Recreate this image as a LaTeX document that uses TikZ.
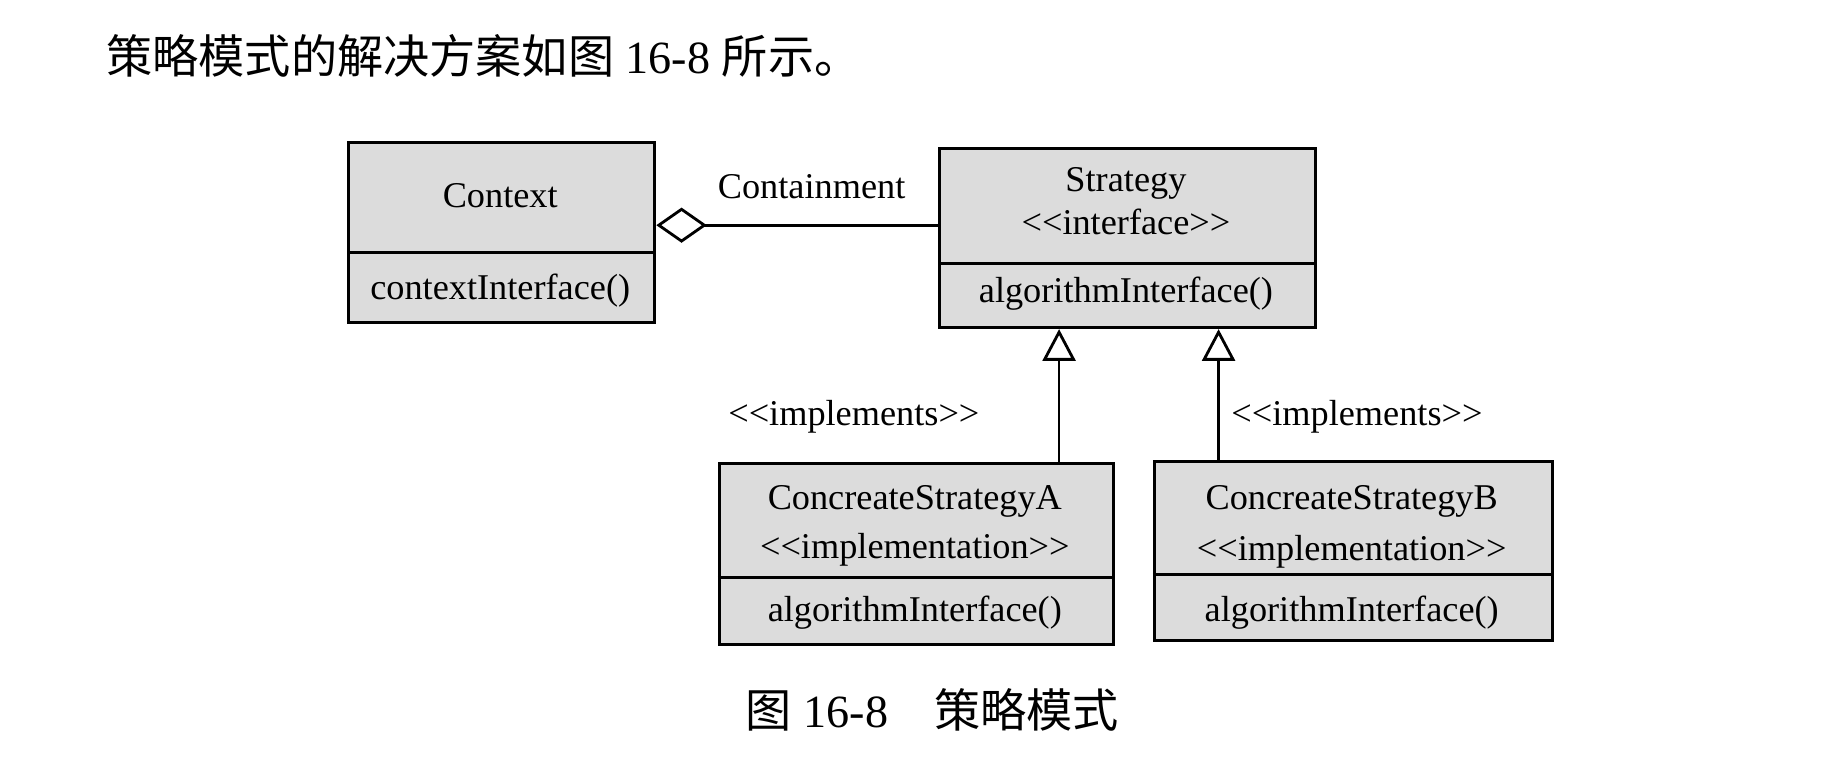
\documentclass[tikz,border=0pt]{standalone}
\usepackage{fontspec}
\newfontfamily\umlfont{Liberation Serif}
\newfontfamily\cjk{Noto Sans CJK SC}
\usetikzlibrary{arrows.meta}

\tikzset{
  classbox/.style={draw, line width=0.026cm, fill=r220g220b220, inner sep=0pt, anchor=north west},
  classtext/.style={inner sep=0pt, text height=0.66em, text depth=0pt},
  divider/.style={line width=0.026cm},
  aggregation/.style={line width=0.024cm, -{Diamond[open, length=0.43cm, width=0.30cm]}},
  realizes/.style={line width=0.024cm, -{Triangle[open, length=0.27cm, width=0.28cm]}},
}

\begin{document}
\begin{tikzpicture}
% \clip (0,0) rectangle (15.680000,6.600000);
\useasboundingbox (0.000000,0.000000) rectangle (15.680000,6.600000);
{\umlfont\fontsize{8.8pt}{10.5pt}\selectfont

% Changing color 220 220 220
\definecolor{r220g220b220}{rgb}{0.862745,0.862745,0.862745}%

% Heading line above the figure
\node [anchor=west, inner sep=0pt, font=\fontsize{11.2pt}{13pt}\selectfont] (heading) at (0.900000,6.120000)
  {{\cjk 策略模式的解决方案如图} 16-8 {\cjk 所示。}};%

% Drawing class Context
\node [classbox, minimum width=2.61cm, minimum height=1.54cm] (ctx) at (2.960000,5.400000) {};%
\draw [divider] (ctx.west |- 0,4.450000) -- (ctx.east |- 0,4.450000);%
\node [classtext] (ctxname) at (4.265000,4.930000) {Context};%
\node [classtext] (ctxop) at (4.265000,4.150000) {contextInterface()};%

% Drawing class Strategy
\node [classbox, minimum width=3.20cm, minimum height=1.53cm] (str) at (8.000000,5.350000) {};%
\draw [divider] (str.west |- 0,4.350000) -- (str.east |- 0,4.350000);%
\node [classtext] (strname) at (9.600000,5.070000) {Strategy};%
\node [classtext] (strstereo) at (9.600000,4.700000) {<<interface>>};%
\node [classtext] (strop) at (9.600000,4.120000) {algorithmInterface()};%

% Drawing class ConcreateStrategyA
\node [classbox, minimum width=3.36cm, minimum height=1.54cm] (csa) at (6.120000,2.660000) {};%
\draw [divider] (csa.west |- 0,1.680000) -- (csa.east |- 0,1.680000);%
\node [classtext] (csaname) at (7.800000,2.360000) {ConcreateStrategyA};%
\node [classtext] (csastereo) at (7.800000,1.940000) {<<implementation>>};%
\node [classtext] (csaop) at (7.800000,1.400000) {algorithmInterface()};%

% Drawing class ConcreateStrategyB
\node [classbox, minimum width=3.39cm, minimum height=1.53cm] (csb) at (9.830000,2.680000) {};%
\draw [divider] (csb.west |- 0,1.700000) -- (csb.east |- 0,1.700000);%
\node [classtext] (csbname) at (11.525000,2.360000) {ConcreateStrategyB};%
\node [classtext] (csbstereo) at (11.525000,1.920000) {<<implementation>>};%
\node [classtext] (csbop) at (11.525000,1.400000) {algorithmInterface()};%

% Drawing containment Strategy -> Context
\coordinate (cn) at (0.000000,4.680000);%
\draw [aggregation] (str.west |- cn) -- (ctx.east |- cn);%
\node [classtext] (cnlabel) at (6.920000,5.010000) {Containment};%

% Drawing implements A -> Strategy
\coordinate (ta) at (9.030000,0.000000);%
\draw [realizes] (csa.north -| ta) -- (str.south -| ta);%
\node [classtext] (talabel) at (7.280000,3.070000) {<<implements>>};%

% Drawing implements B -> Strategy
\coordinate (tb) at (10.390000,0.000000);%
\draw [realizes] (csb.north -| tb) -- (str.south -| tb);%
\node [classtext] (tblabel) at (11.570000,3.070000) {<<implements>>};%

% Caption below the figure
\node [inner sep=0pt, font=\fontsize{11.2pt}{13pt}\selectfont] (caption) at (7.950000,0.550000)
  {{\cjk 图} 16-8{\cjk 　策略模式}};%
}
\end{tikzpicture}
\end{document}
